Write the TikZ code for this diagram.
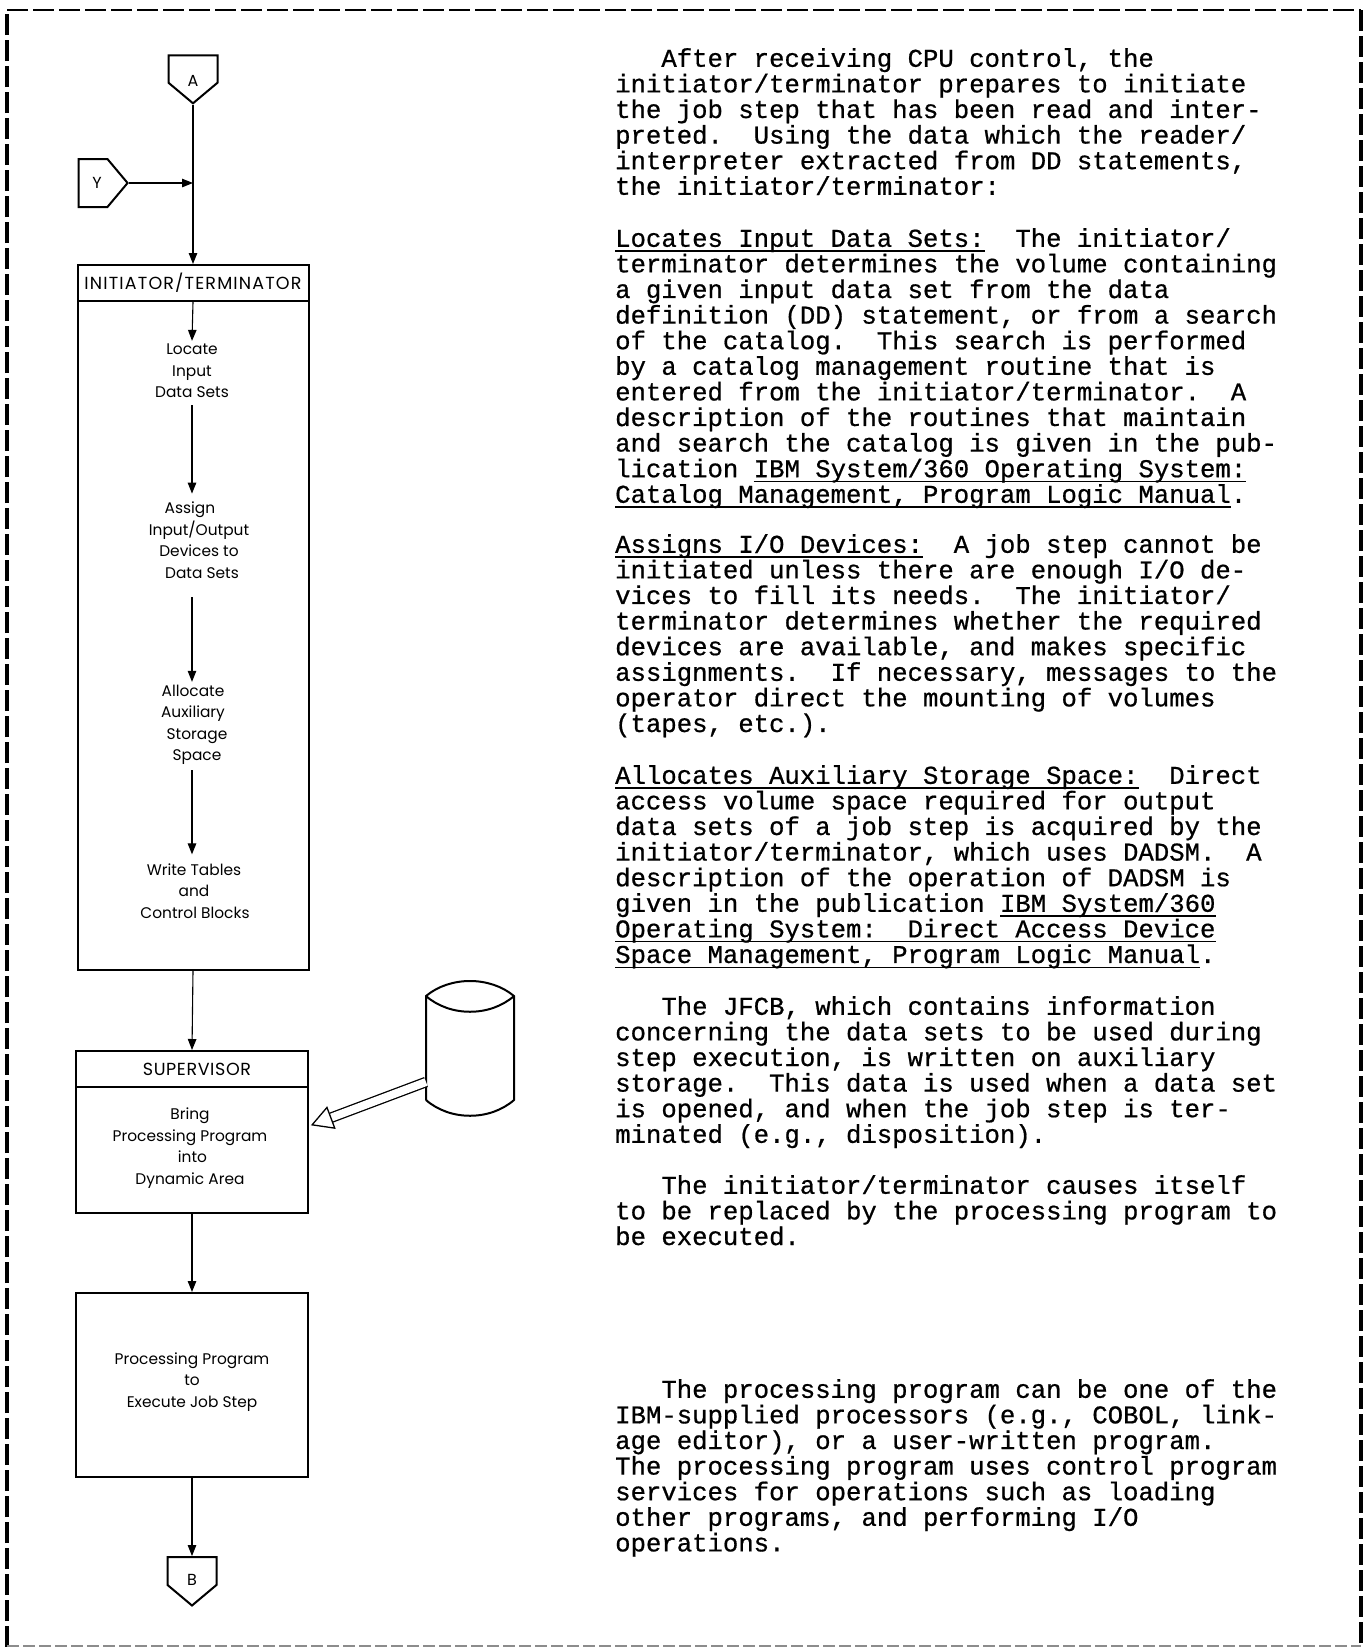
\documentclass[tikz,border=0pt]{standalone}
\usepackage{fontspec}
\setmainfont{Liberation Mono}[RawFeature={embolden=0.7}]
\newfontfamily\flowfont{Poppins}
\usetikzlibrary{shapes.symbols,positioning,calc,arrows.meta}

\newlength{\ullen}
\newcommand{\ultext}[1]{\settowidth{\ullen}{#1}\rlap{\rule[-5pt]{\ullen}{1.4pt}}#1}
\newcommand{\headtext}[2]{\fontsize{17.5}{21.5}\selectfont\addfontfeature{LetterSpace=#1}\raisebox{-3pt}{#2}}

\tikzset{
  frameline/.style={line width=4pt, dash pattern=on 21pt off 5pt},
  blockbox/.style={draw, line width=2pt, anchor=north west, inner sep=0pt, minimum width=232pt, font=\flowfont},
  blocktext/.style={align=center, inner sep=3pt, font=\flowfont\fontsize{15.4}{21.5}\selectfont},
  connector/.style={signal, draw, line width=2pt, inner sep=0pt, signal pointer angle=100, minimum width=49pt, minimum height=32pt, font=\flowfont\fontsize{16}{20}\selectfont},
  flow/.style={line width=1.1pt, -{Triangle[length=11pt, width=8.5pt]}},
  notes/.style={anchor=north west, align=left, inner sep=0pt, font=\fontsize{25.65}{25.6}\selectfont},
}

\begin{document}
\begin{tikzpicture}[x=1pt, y=-1pt]
  \useasboundingbox (0, 0) rectangle (1364, 1647);

  % Frame
  \draw[frameline] (7, 1647) -- (7, 10);
  \draw[frameline] (1361, 10) -- (1361, 1647);
  \draw[frameline, line width=2.6pt] (7, 10) -- (1361, 10);
  \draw[line width=1.6pt, black!45, dash pattern=on 12pt off 4pt] (7, 1646) -- (1361, 1646);

  % Connectors in and out
  \node[connector, signal to=south] (ca) at (193, 69) {\smash{\raisebox{-17pt}{A}}};
  \node[connector, signal to=east, minimum height=48pt] (cy) at (93, 183) {\hspace*{8pt}Y};
  \node[connector, signal to=south] (cb) at (192, 1571) {\smash{\raisebox{-14pt}{B}}};

  % Initiator/terminator
  \node[blockbox, minimum width=231pt, minimum height=36pt] (inithead) at (76.5, 264) {\headtext{6.6}{INITIATOR/TERMINATOR}};
  \node[blockbox, minimum width=231pt, minimum height=669pt] (initbody) at (76.5, 300) {};
  \node[blocktext] (locate) at (192, 371) {Locate\\Input\\Data Sets};
  \node[blocktext] (assign) at (192, 540) {\hspace*{-4pt}Assign\\\hspace*{14pt}Input/Output\\\hspace*{14pt}Devices to\\\hspace*{20pt}Data Sets};
  \node[blocktext] (allocate) at (192, 725) {\hspace*{2pt}Allocate\\\hspace*{2pt}Auxiliary\\\hspace*{10pt}Storage\\\hspace*{10pt}Space};
  \node[blocktext] (write) at (192, 891) {\hspace*{4pt}Write Tables\\\hspace*{4pt}and\\\hspace*{6pt}Control Blocks};

  % Supervisor
  \node[blockbox, minimum height=36pt] (suphead) at (75, 1050) {\hspace*{10pt}\headtext{3.5}{SUPERVISOR}};
  \node[blockbox, minimum height=126pt] (supbody) at (75, 1086) {};
  \node[blocktext] (bring) at (190, 1148) {Bring\\Processing Program\\\hspace*{5pt}into\\Dynamic Area};

  % Processing program
  \node[blockbox, minimum height=184pt] (progbox) at (75, 1292) {};
  \node[blocktext] (exec) at (192, 1382) {Processing Program\\to\\Execute Job Step};

  % Auxiliary storage
  \coordinate (cyltl) at (426, 996);
  \coordinate (cyltr) at (514, 996);
  \coordinate (cylbl) at (426, 1100);
  \coordinate (cylbr) at (514, 1100);
  \draw[line width=2pt] (cylbl) -- (cyltl) .. controls (450, 976) and (490, 976) .. (cyltr) -- (cylbr) .. controls (490, 1121) and (450, 1121) .. (cylbl);
  \draw[line width=2pt] (cyltl) .. controls (450, 1017) and (490, 1017) .. (cyltr);

  % Flow
  \coordinate (join) at (ca.south |- cy.east);
  \draw[line width=1.1pt] (ca.south) -- (join);
  \draw[flow] (join) -- (inithead.north);
  \draw[flow] (cy.east) -- (join);
  \draw[flow] (inithead.south) -- (locate.north);
  \draw[flow, shorten <=4pt, shorten >=5pt] (locate.south) -- (assign.north);
  \draw[flow, shorten <=16pt] (assign.south) -- (allocate.north);
  \draw[flow, shorten <=2pt, shorten >=6pt] (allocate.south) -- (write.north);
  \draw[flow] (initbody.south) -- (suphead.north);
  \draw[flow] (supbody.south) -- (progbox.north);
  \draw[flow] (progbox.south) -- (cb.north);

  % Storage to supervisor
  \coordinate (cylport) at (426, 1082);
  \coordinate (support) at (supbody.east |- 0, 1126);
  \draw[line width=1.3pt, double, double distance=8pt, shorten >=2pt, -{Triangle[open, length=22pt, width=24pt]}] (cylport) -- (support);

  % Text
  \node[notes] (para1) at (615, 48) {~~~After receiving CPU control, the\\initiator/terminator prepares to initiate\\the job step that has been read and inter-\\preted.~~Using the data which the reader/\\interpreter extracted from DD statements,\\the initiator/terminator:};
  \node[notes] (para2) at (615, 228) {\ultext{Locates Input Data Sets:}~~The initiator/\\terminator determines the volume containing\\a given input data set from the data\\definition (DD) statement, or from a search\\of the catalog.~~This search is performed\\by a catalog management routine that is\\entered from the initiator/terminator.~~A\\description of the routines that maintain\\and search the catalog is given in the pub-\\lication \ultext{IBM System/360 Operating System:}\\\ultext{Catalog Management, Program Logic Manual}.};
  \node[notes] (para3) at (615, 534) {\ultext{Assigns I/O Devices:}~~A job step cannot be\\initiated unless there are enough I/O de-\\vices to fill its needs.~~The initiator/\\terminator determines whether the required\\devices are available, and makes specific\\assignments.~~If necessary, messages to the\\operator direct the mounting of volumes\\(tapes, etc.).};
  \node[notes] (para4) at (615, 765) {\ultext{Allocates Auxiliary Storage Space:}~~Direct\\access volume space required for output\\data sets of a job step is acquired by the\\initiator/terminator, which uses DADSM.~~A\\description of the operation of DADSM is\\given in the publication \ultext{IBM System/360}\\\ultext{Operating System:~~Direct Access Device}\\\ultext{Space Management, Program Logic Manual}.};
  \node[notes] (para5) at (615, 996) {~~~The JFCB, which contains information\\concerning the data sets to be used during\\step execution, is written on auxiliary\\storage.~~This data is used when a data set\\is opened, and when the job step is ter-\\minated (e.g., disposition).};
  \node[notes] (para6) at (615, 1175) {~~~The initiator/terminator causes itself\\to be replaced by the processing program to\\be executed.};
  \node[notes] (para7) at (615, 1379) {~~~The processing program can be one of the\\IBM-supplied processors (e.g., COBOL, link-\\age editor), or a user-written program.\\The processing program uses control program\\services for operations such as loading\\other programs, and performing I/O\\operations.};
\end{tikzpicture}
\end{document}
